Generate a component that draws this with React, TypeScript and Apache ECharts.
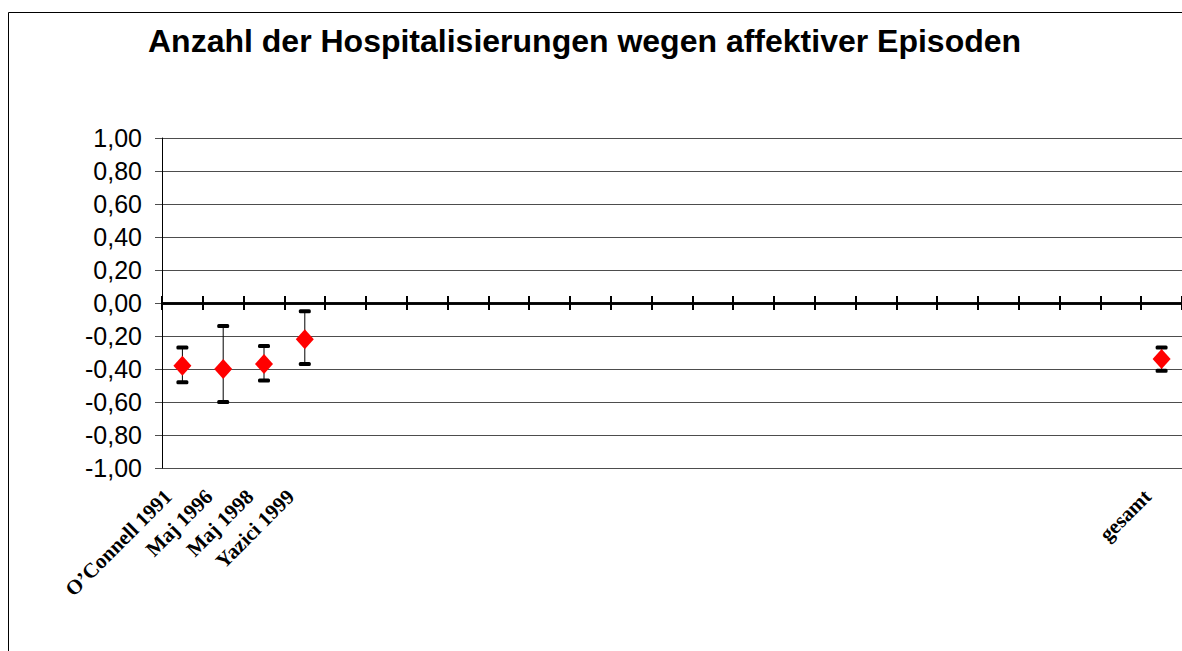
import React, { useEffect, useRef } from "react";
import * as echarts from "echarts";

const titleText = "Anzahl der Hospitalisierungen wegen affektiver Episoden";

const categories = [
  "O\u2019Connell 1991", "Maj 1996", "Maj 1998", "Yazici 1999",
  "", "", "", "", "", "", "", "", "", "", "", "", "", "", "", "", "", "", "", "",
  "gesamt",
];

const pointCategories = ["O\u2019Connell 1991", "Maj 1996", "Maj 1998", "Yazici 1999", "gesamt"];
const means = [-0.38, -0.40, -0.37, -0.22, -0.34];
const upper = [-0.27, -0.14, -0.26, -0.05, -0.27];
const lower = [-0.48, -0.60, -0.47, -0.37, -0.41];

const yMin = -1;
const yMax = 1;
const yStep = 0.2;

export default function App() {
  const ref = useRef<HTMLDivElement>(null);
  useEffect(() => {
    if (!ref.current) return;
    const chart = echarts.init(ref.current, null, { renderer: "svg" });
    const catIndex = (name: string) => categories.indexOf(name);
    const errData = pointCategories.map((c, i) => [catIndex(c), lower[i], upper[i]]);
    const pointData = pointCategories.map((c, i) => [catIndex(c), means[i]]);
    const baseX = {
      type: "category" as const,
      data: categories,
      position: "bottom" as const,
      boundaryGap: true,
      splitLine: { show: false },
    };
    const baseY = {
      type: "value" as const,
      min: yMin,
      max: yMax,
      interval: yStep,
    };
    chart.setOption({
      animation: false,
      backgroundColor: "#ffffff",
      title: {
        text: titleText,
        left: 143,
        top: 20,
        textStyle: {
          fontFamily: "Liberation Sans, Arial, sans-serif",
          fontWeight: "bold",
          fontSize: 32,
          color: "#000",
        },
      },
      graphic: [
        {
          type: "rect",
          silent: true,
          z: -10,
          shape: { x: 8.5, y: 12.5, width: 1400, height: 900 },
          style: { fill: "none", stroke: "#000", lineWidth: 1 },
        },
      ],
      grid: { left: 162, top: 138, width: 1021.5, height: 330, containLabel: false },
      xAxis: [
        {
          ...baseX,
          axisLine: { show: false, onZero: false },
          axisTick: { show: false },
          axisLabel: {
            interval: 0,
            rotate: 45,
            margin: 11,
            padding: [0, 20, 0, 0],
            fontFamily: "Liberation Serif, Times New Roman, serif",
            fontWeight: "bold",
            fontSize: 21,
            color: "#000",
          },
        },
        {
          ...baseX,
          axisLine: { show: true, onZero: true, onZeroAxisIndex: 0, lineStyle: { color: "#000", width: 2.5 } },
          axisTick: { show: true, interval: 0, length: 7, lineStyle: { color: "#000", width: 2 } },
          axisLabel: { show: false },
        },
        {
          ...baseX,
          axisLine: { show: true, onZero: true, onZeroAxisIndex: 1, lineStyle: { color: "#000", width: 2.5 } },
          axisTick: { show: true, interval: 0, inside: true, length: 7, lineStyle: { color: "#000", width: 2 } },
          axisLabel: { show: false },
        },
      ],
      yAxis: [
        {
          ...baseY,
          position: "left",
          axisLine: { show: true, onZero: false, lineStyle: { color: "#000", width: 1 } },
          axisTick: { show: true, length: 7, lineStyle: { color: "#4d4d4d", width: 1 } },
          splitLine: { show: true, lineStyle: { color: "#4d4d4d", width: 1 } },
          axisLabel: {
            margin: 20,
            fontFamily: "Liberation Sans, Arial, sans-serif",
            fontSize: 25,
            color: "#000",
            formatter: (v: number) => v.toFixed(2).replace(".", ",").replace("-0,00", "0,00"),
          },
        },
        {
          ...baseY,
          position: "right",
          axisLine: { show: false, onZero: false },
          axisTick: { show: false },
          splitLine: { show: false },
          axisLabel: { show: false },
        },
      ],
      series: [
        {
          type: "custom",
          xAxisIndex: 0,
          yAxisIndex: 0,
          z: 3,
          data: errData,
          renderItem: (params: any, api: any) => {
            const lo = api.coord([api.value(0), api.value(1)]);
            const hi = api.coord([api.value(0), api.value(2)]);
            const capW = 12;
            const capH = 4;
            return {
              type: "group",
              children: [
                {
                  type: "line",
                  shape: { x1: lo[0], y1: lo[1], x2: hi[0], y2: hi[1] },
                  style: { stroke: "#000", lineWidth: 1 },
                },
                {
                  type: "rect",
                  shape: { x: lo[0] - capW / 2, y: lo[1] - capH / 2, width: capW, height: capH, r: 1.5 },
                  style: { fill: "#000" },
                },
                {
                  type: "rect",
                  shape: { x: hi[0] - capW / 2, y: hi[1] - capH / 2, width: capW, height: capH, r: 1.5 },
                  style: { fill: "#000" },
                },
              ],
            };
          },
        },
        {
          type: "scatter",
          xAxisIndex: 0,
          yAxisIndex: 0,
          z: 4,
          symbol: "diamond",
          symbolSize: [18, 20],
          itemStyle: { color: "#ff0000", opacity: 1 },
          data: pointData,
        },
      ],
    });
    return () => chart.dispose();
  }, []);
  return (
    <div
      ref={ref}
      style={{ position: "fixed", left: 0, top: 0, width: 1182, height: 651, background: "#fff" }}
    />
  );
}
